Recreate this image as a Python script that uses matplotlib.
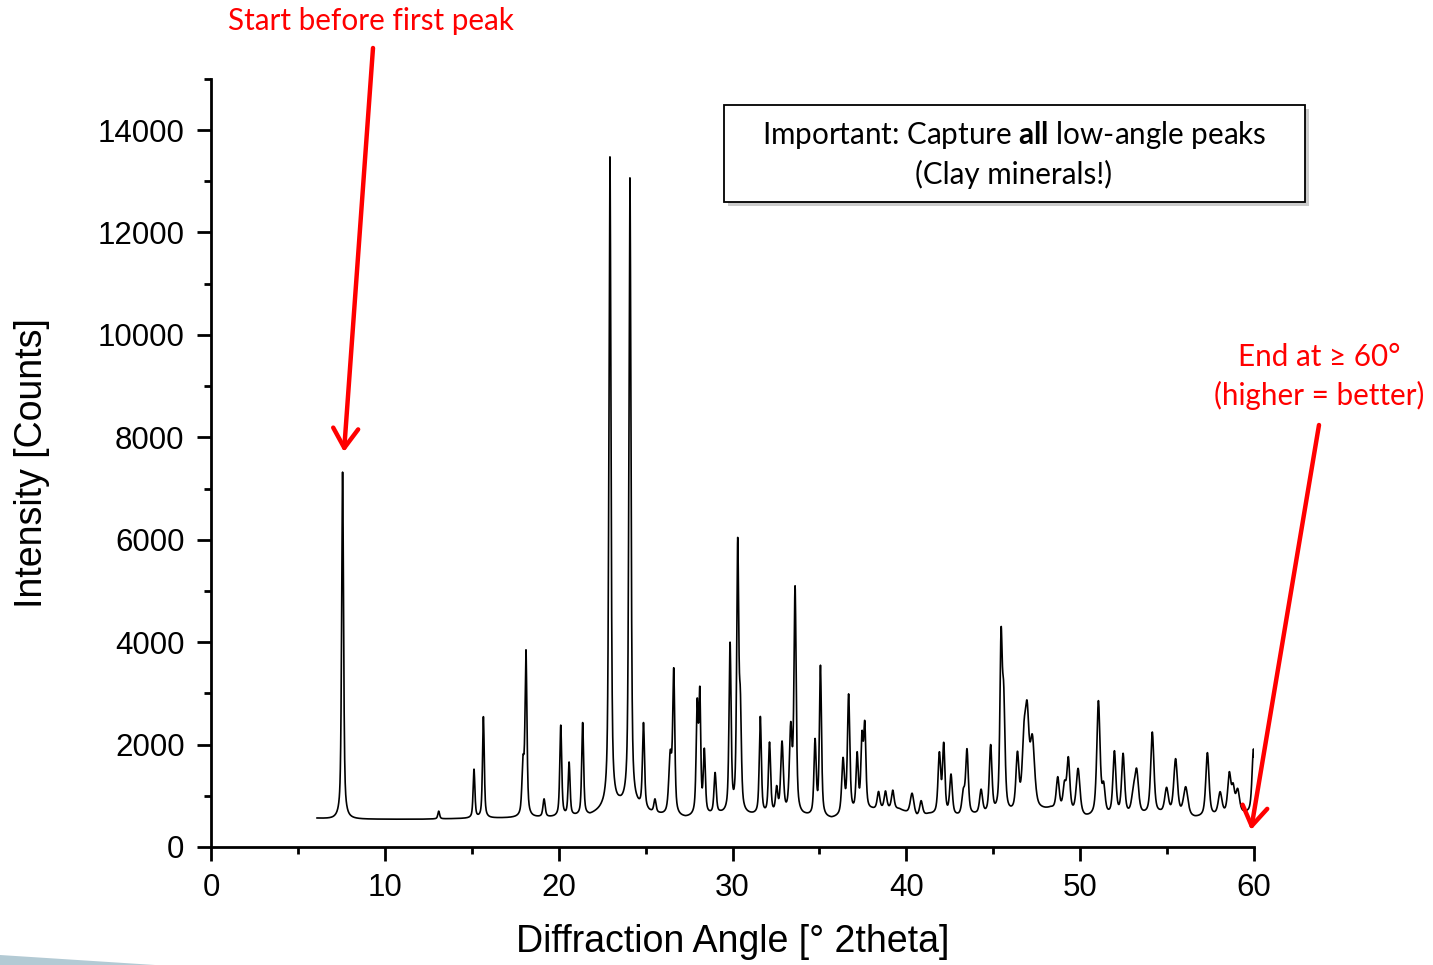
import numpy as np
import matplotlib
matplotlib.use("Agg")
import matplotlib.pyplot as plt
from matplotlib.patches import Rectangle, Polygon

# Peak list: centre [deg 2theta], top height [counts], FWHM [deg]
peak_pos = [7.57, 13.1, 15.13, 15.67, 17.95, 18.12, 19.16, 20.12, 20.6, 21.38,
            22.95, 24.1, 24.88, 25.54, 26.42, 26.62, 27.97, 28.12, 28.38, 29.0,
            29.86, 30.3, 30.45, 31.6, 32.13, 32.54, 32.85, 33.35, 33.6, 34.75,
            35.06, 36.36, 36.68, 37.17, 37.45, 37.61, 38.4, 38.8, 39.22, 40.33,
            40.85, 41.9, 42.15, 42.57, 43.28, 43.49, 44.3, 44.85, 45.45, 45.6,
            46.39, 46.77, 46.95, 47.25, 48.71, 49.1, 49.32, 49.88, 51.05, 51.35,
            51.97, 52.47, 53.06, 53.25, 54.15, 54.97, 55.49, 56.07, 57.32, 58.05,
            58.58, 58.8, 59.06, 59.97]
peak_top = [7320, 700, 1520, 2545, 1800, 3850, 940, 2380, 1660, 2430,
            13475, 13065, 2430, 940, 1900, 3500, 2910, 3140, 1930, 1455,
            4000, 6045, 3100, 2550, 2050, 1200, 2070, 2450, 5100, 2120,
            3550, 1750, 2990, 1860, 2270, 2470, 1085, 1095, 1110, 1050,
            905, 1860, 2045, 1425, 1150, 1920, 1130, 2000, 4283, 3200,
            1870, 2450, 2855, 2200, 1373, 1300, 1764, 1536, 2858, 1280,
            1880, 1830, 1210, 1536, 2245, 1165, 1725, 1177, 1842, 1080,
            1470, 1250, 1145, 1913]
peak_fwhm = [0.13, 0.12, 0.12, 0.12, 0.15, 0.13, 0.15, 0.13, 0.13, 0.13,
             0.14, 0.14, 0.14, 0.15, 0.2, 0.14, 0.14, 0.12, 0.14, 0.15,
             0.14, 0.14, 0.14, 0.14, 0.15, 0.15, 0.18, 0.18, 0.15, 0.15,
             0.14, 0.18, 0.16, 0.15, 0.15, 0.15, 0.18, 0.18, 0.18, 0.25,
             0.2, 0.18, 0.16, 0.18, 0.2, 0.18, 0.2, 0.18, 0.16, 0.18,
             0.2, 0.25, 0.25, 0.3, 0.2, 0.2, 0.2, 0.25, 0.22, 0.2,
             0.2, 0.2, 0.25, 0.25, 0.22, 0.25, 0.25, 0.3, 0.22, 0.25,
             0.22, 0.2, 0.25, 0.2]

# background level between peaks
bg_x = [6.0, 7.0, 9, 12, 14, 16.5, 19.5, 21.8, 22.5, 23.5, 24.5, 25.2, 26, 27.3,
        29.3, 31.1, 34.2, 35.7, 38, 39.6, 40.6, 41.3, 43, 44, 45.9, 48, 48.3,
        50.3, 53.7, 54.6, 56.6, 59.6, 60.1]
bg_y = [560, 540, 540, 540, 550, 560, 570, 600, 700, 780, 740, 650, 600, 550,
        620, 600, 580, 530, 700, 720, 560, 620, 570, 600, 600, 700, 720,
        550, 600, 620, 550, 640, 640]

two_theta = np.arange(6.1, 60.05, 0.01)


def profile(x, c, fwhm, eta=0.6):
    u = (x - c) / (fwhm / 2)
    return eta / (1 + u**2) + (1 - eta) * np.exp(-np.log(2) * u**2)


pos = np.array(peak_pos)
top = np.array(peak_top, dtype=float)
fw = np.array(peak_fwhm)
bg_at_peaks = np.interp(pos, bg_x, bg_y)
M = np.array([profile(pos, c, w) for c, w in zip(pos, fw)]).T
amp = top - bg_at_peaks
for _ in range(400):
    resid = top - bg_at_peaks - M @ amp
    amp = np.clip(amp + 0.5 * resid, 0, None)

counts = np.interp(two_theta, bg_x, bg_y)
for c, w, a in zip(pos, fw, amp):
    counts = counts + a * profile(two_theta, c, w)

W, H = 1433, 965
fig = plt.figure(figsize=(W / 100, H / 100), dpi=100)
ax = fig.add_axes([211 / W, 1 - 847 / H, (1254 - 211) / W, (847 - 78.8) / H])

ax.plot(two_theta, counts, color='black', lw=1.2)
ax.set_xlim(0, 60)
ax.set_ylim(0, 15000)
ax.set_xticks(np.arange(0, 61, 10))
ax.set_xticks(np.arange(5, 60, 10), minor=True)
ax.set_yticks(np.arange(0, 14001, 2000))
ax.set_yticks(np.arange(1000, 15001, 2000), minor=True)
for s in ['top', 'right']:
    ax.spines[s].set_visible(False)
for s in ['left', 'bottom']:
    ax.spines[s].set_linewidth(2)
ax.tick_params(which='major', length=10, width=2, labelsize=22.5, pad=9)
ax.tick_params(which='minor', length=5, width=2)
for lab in ax.get_xticklabels() + ax.get_yticklabels():
    lab.set_family('Liberation Sans')
ax.set_xlabel('Diffraction Angle [° 2theta]', fontsize=27, family='Liberation Sans', labelpad=15)
ax.set_ylabel('Intensity [Counts]', fontsize=27, family='Liberation Sans', labelpad=34)


def fp(x, y):
    return (x / W, 1 - y / H)


plt.rcParams['mathtext.fontset'] = 'custom'
plt.rcParams['mathtext.bf'] = 'Lato:bold'
plt.rcParams['mathtext.rm'] = 'Lato'
note_font = ['Lato', 'DejaVu Sans']
fs = 21.3

# note box with shadow
x0, y0 = fp(724, 202)
bw, bh = (1305 - 724) / W, (202 - 105) / H
fig.patches.append(Rectangle((x0 + 4 / W, y0 - 4 / H), bw, bh, transform=fig.transFigure,
                             facecolor='#9a9a9a', edgecolor='none', alpha=0.5))
fig.patches.append(Rectangle((x0, y0), bw, bh, transform=fig.transFigure,
                             facecolor='white', edgecolor='black', lw=1.3))
fig.text(*fp(1014, 135), r'Important: Capture $\mathbf{all}$ low-angle peaks',
         ha='center', va='center', fontsize=fs, family=note_font)
fig.text(*fp(1014, 174), '(Clay minerals!)', ha='center', va='center',
         fontsize=fs, family=note_font)

# red notes and arrows
fig.text(*fp(371, 21), 'Start before first peak', ha='center', va='center',
         fontsize=fs, color='red', family=note_font)
fig.text(*fp(1319, 357), 'End at ≥ 60°', ha='center', va='center',
         fontsize=fs, color='red', family=note_font)
fig.text(*fp(1319, 395), '(higher = better)', ha='center', va='center',
         fontsize=fs, color='red', family=note_font)

arrow = dict(arrowstyle='->,head_length=0.7,head_width=0.45', color='red', lw=3.2,
             mutation_scale=20, shrinkA=0, shrinkB=0)
fig.add_artist(matplotlib.text.Annotation('', xy=fp(344, 452), xytext=fp(373, 48),
                                          xycoords='figure fraction', arrowprops=arrow))
fig.add_artist(matplotlib.text.Annotation('', xy=fp(1251, 830), xytext=fp(1319, 425),
                                          xycoords='figure fraction', arrowprops=arrow))

# slide decoration at bottom-left
fig.patches.append(Polygon([fp(0, 955), fp(155, 965), fp(0, 965)], closed=True,
                           transform=fig.transFigure, facecolor='#b3cad4', edgecolor='none'))

fig.savefig('out.png', dpi=100)
